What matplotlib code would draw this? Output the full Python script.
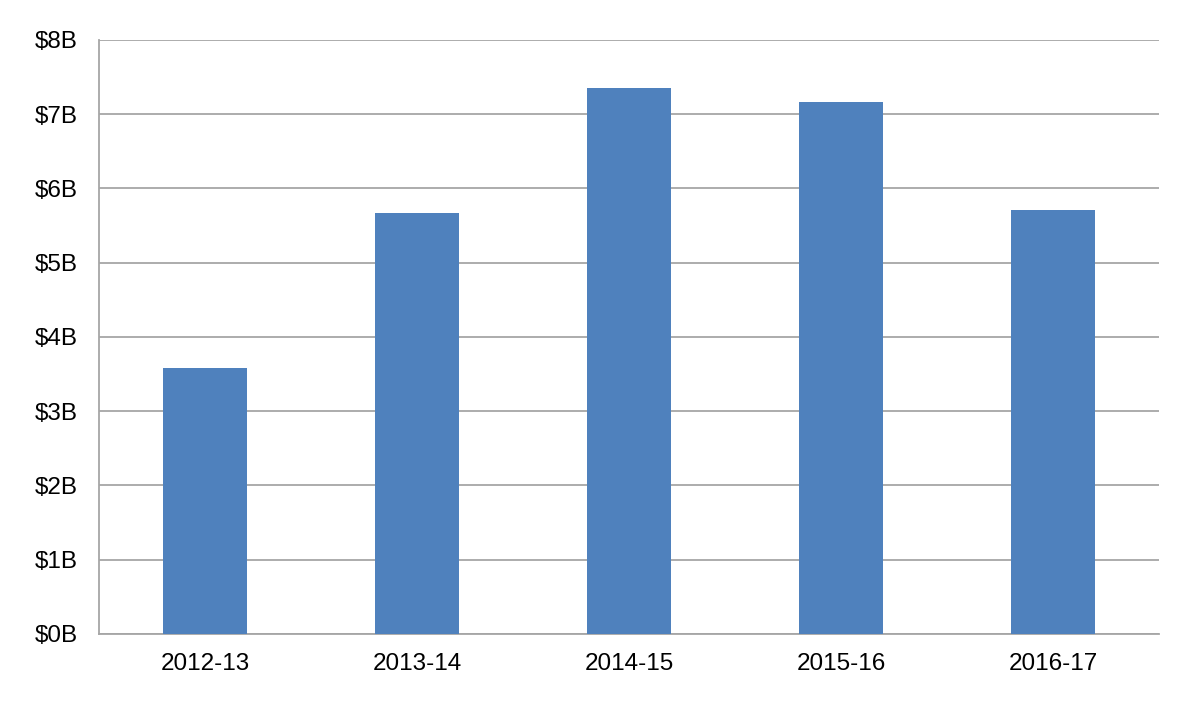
import matplotlib.pyplot as plt
import numpy as np

plt.rcParams['font.family'] = ['Liberation Sans', 'DejaVu Sans']

years = ['2012-13', '2013-14', '2014-15', '2015-16', '2016-17']
values = [3.58, 5.67, 7.35, 7.17, 5.71]  # billions of dollars
yticks = [0, 1, 2, 3, 4, 5, 6, 7, 8]

fig = plt.figure(figsize=(11.94, 7.01), dpi=100)
ax = fig.add_axes([0.0829, 0.0956, 0.8878, 0.8474])

x = np.arange(len(years))
ax.bar(x, values, width=0.4, color='#4f81bd', zorder=3)

ax.set_xlim(-0.5, len(years) - 0.5)
ax.set_ylim(0, 8)
ax.set_yticks(yticks)
ax.set_yticklabels(['$%dB' % v for v in yticks])
ax.set_xticks(x)
ax.set_xticklabels(years)

ax.yaxis.grid(True, color='#a6a6a6', linewidth=1.3, zorder=0)
ax.tick_params(axis='both', length=0, labelsize=17.5, colors='black')
ax.tick_params(axis='y', pad=15.5)
ax.tick_params(axis='x', pad=14)
for s in ['top', 'right']:
    ax.spines[s].set_visible(False)
for s in ['left', 'bottom']:
    ax.spines[s].set_color('#a6a6a6')
    ax.spines[s].set_linewidth(1.3)

fig.savefig('out.png', dpi=100)
